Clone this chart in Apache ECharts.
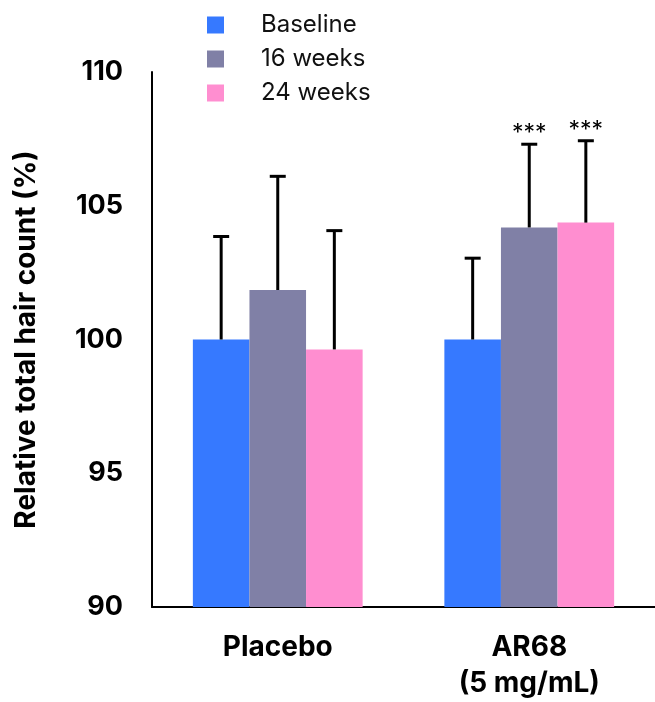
<!DOCTYPE html>
<html><head><meta charset="utf-8">
<script src="https://cdn.jsdelivr.net/npm/echarts@6/dist/echarts.min.js"></script>
<style>html,body{margin:0;padding:0;background:#fff}#c{width:655px;height:702px}</style>
</head><body><div id="c"></div>
<script>
const categories = ['Placebo', 'AR68\n(5 mg/mL)'];
const seriesNames = ['Baseline', '16 weeks', '24 weeks'];
const baseline = [100, 100];
const weeks16 = [101.85, 104.19];
const weeks24 = [99.63, 104.37];
const errBaseline = [103.85, 103.04];
const err16 = [106.1, 107.3];
const err24 = [104.07, 107.43];
const sig16 = ['', '***'];
const sig24 = ['', '***'];
const yTicks = [90, 95, 100, 105, 110];

const colors = ['#3679FF', '#8080A6', '#FF8ED0'];
const values = [baseline, weeks16, weeks24];
const errs = [errBaseline, err16, err24];
const sigs = [['', ''], sig16, sig24];
const FONT = 'Inter';
const BARPCT = 0.225;

const chart = echarts.init(document.getElementById('c'), null, {renderer: 'canvas'});

const series = [];
values.forEach((v, i) => {
  series.push({
    name: seriesNames[i], type: 'bar', data: v,
    barWidth: (BARPCT * 100) + '%', barGap: '0%',
    itemStyle: {color: colors[i]}, z: 2
  });
});
values.forEach((v, i) => {
  series.push({
    type: 'custom', name: 'err' + i, z: 3, silent: true,
    data: v.map((val, k) => [k, val, errs[i][k]]),
    encode: {x: 0, y: [1, 2]},
    renderItem: function (params, api) {
      const k = api.value(0);
      const band = api.size([1, 0])[0];
      const bw = band * BARPCT;
      const off = (i - 1) * bw;
      const p0 = api.coord([k, api.value(1)]);
      const p1 = api.coord([k, api.value(2)]);
      const x = p0[0] + off;
      const children = [
        {type: 'line', shape: {x1: x, y1: p0[1], x2: x, y2: p1[1]}, style: {stroke: '#000', lineWidth: 3}},
        {type: 'line', shape: {x1: x - 8, y1: p1[1], x2: x + 8, y2: p1[1]}, style: {stroke: '#000', lineWidth: 3}}
      ];
      const s = sigs[i][k];
      if (s) {
        children.push({type: 'text', x: x, y: p1[1] - 11, style: {text: s, fill: '#000', font: '23px ' + FONT, align: 'center', verticalAlign: 'middle'}});
      }
      return {type: 'group', children: children};
    }
  });
});

chart.setOption({
  animation: false,
  color: colors,
  grid: {left: 152, top: 72, width: 516, height: 540},
  legend: {
    data: seriesNames, orient: 'vertical', left: 207, top: 13, padding: 0,
    itemWidth: 17, itemHeight: 17, itemGap: 10, icon: 'rect',
    textStyle: {fontFamily: FONT, fontSize: 24, color: '#111', padding: [0, 0, 0, 32]}
  },
  xAxis: {
    type: 'category', data: categories,
    axisLine: {lineStyle: {color: '#000', width: 2}},
    axisTick: {show: false},
    axisLabel: {fontFamily: FONT, fontWeight: 'bold', fontSize: 28, color: '#000', margin: 23, lineHeight: 36}
  },
  yAxis: {
    type: 'value', min: 90, max: 110, interval: 5,
    name: 'Relative total hair count (%)', nameLocation: 'middle', nameGap: 111, nameRotate: 90,
    nameTextStyle: {fontFamily: FONT, fontWeight: 'bold', fontSize: 28, color: '#000'},
    axisLine: {show: true, lineStyle: {color: '#000', width: 2}},
    axisTick: {show: false},
    splitLine: {show: false},
    axisLabel: {fontFamily: FONT, fontWeight: 'bold', fontSize: 27, color: '#000', margin: 29,
      formatter: v => yTicks.includes(v) ? String(v) : ''}
  },
  series: series
});
</script></body></html>
